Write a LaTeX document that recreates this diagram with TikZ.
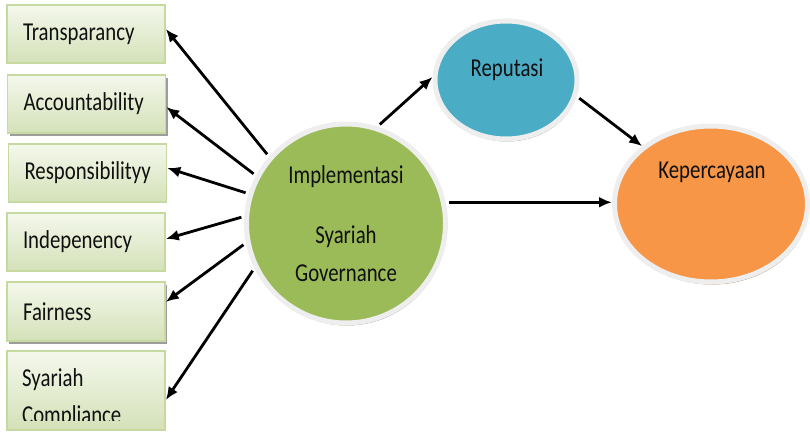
\documentclass[tikz,border=0pt]{standalone}
\usepackage{fontspec}
\setmainfont{Carlito}
\usetikzlibrary{arrows.meta,shapes.geometric,shadows}
\definecolor{boxtop}{HTML}{F4F8EC}
\definecolor{boxbot}{HTML}{D4E1B8}
\definecolor{boxline}{HTML}{C6D9A0}
\definecolor{govgreen}{HTML}{9BBB59}
\definecolor{repblue}{HTML}{4BACC6}
\definecolor{keporange}{HTML}{F79646}
\definecolor{ring}{HTML}{EEEEEE}
\definecolor{inktext}{HTML}{101010}

% labels are set slightly condensed (taller than wide)
\newcommand{\tallword}[1]{\scalebox{1}[1.24]{#1}}

\tikzset{
  pillar/.style={rectangle, draw=boxline, line width=1.6pt,
    top color=boxtop, bottom color=boxbot,
    minimum width=158pt, minimum height=58pt,
    text width=126pt, inner xsep=16pt, align=left},
  lifted/.style={drop shadow={shadow xshift=2pt, shadow yshift=-3pt,
    fill=black!55, opacity=0.7}},
  bubble/.style={draw=ring, line width=5pt, inner sep=0pt},
  bubbleshadow/.style={drop shadow={shadow xshift=1pt, shadow yshift=-2.5pt,
    fill=#1, opacity=0.9}},
  label text/.style={inner sep=0pt, text=inktext},
  link/.style={line width=2.8pt, -{Latex[length=13pt,width=11pt]},
    shorten <=3pt}
}

\begin{document}
\begin{tikzpicture}[x=1pt, y=-1pt, font=\fontsize{20.8}{25}\selectfont, text=inktext]
\useasboundingbox (0,0) rectangle (810,431);

% principle boxes on the left
\node (T) [pillar] at (86,34) {\tallword{Transparancy}};
\node (A) [pillar, lifted] at (86.5,104) {\tallword{Accountability}};
\node (R) [pillar, minimum width=157pt] at (87.5,173) {\tallword{Responsibilityy}};
\node (I) [pillar] at (86,242) {\tallword{Indepenency}};
\node (F) [pillar, lifted, minimum height=59pt] at (86,311.5) {\tallword{Fairness}};
\node (S) [pillar, minimum height=79pt] at (86,390.5) {};
\node (S1) [label text, anchor=west] at (22,380) {\tallword{Syariah}};
\begin{scope}
  % the second line runs past the text area and is cut off
  \clip (0,0) rectangle (810,420.5);
  \node (S2) [label text, anchor=west] at (22,416.5) {\tallword{Compliance}};
\end{scope}

% construct circles
\node (G) [bubble, circle, minimum size=199pt, fill=govgreen,
  bubbleshadow=black!45] at (346,223.5) {};
\node (G1) [label text] at (346,177) {\tallword{Implementasi}};
\node (G2) [label text] at (346,237) {\tallword{Syariah}};
\node (G3) [label text] at (346,273) {\tallword{Governance}};

\node (P) [bubble, ellipse, minimum width=142pt, minimum height=118pt,
  fill=repblue, bubbleshadow=black!40] at (506,80) {};
\node (P1) [label text] at (507,70) {\tallword{Reputasi}};

\node (K) [bubble, ellipse, minimum width=193pt, minimum height=156pt,
  fill=keporange, bubbleshadow=brown!80!black] at (711,204) {};
\node (K1) [label text] at (712,172) {\tallword{Kepercayaan}};

% relations
\draw[link] (G.139.5) -- ([yshift=5pt]T.east);
\draw[link] (G.152) -- ([yshift=-3pt]A.east);
\draw[link] (G.163) -- ([yshift=5pt]R.east);
\draw[link] (G.176) -- ([yshift=3pt]I.east);
\draw[link] (G.191.7) -- ([yshift=9.5pt]F.east);
\draw[link] (G.206) -- ([yshift=-9.5pt]S.east);
\draw[link] (G.72) -- ([yshift=3pt]P.west);
\draw[link] (P.-13) -- (K.140);
\draw[link] (G.12) -- (G.12 -| K.west);
\end{tikzpicture}
\end{document}
